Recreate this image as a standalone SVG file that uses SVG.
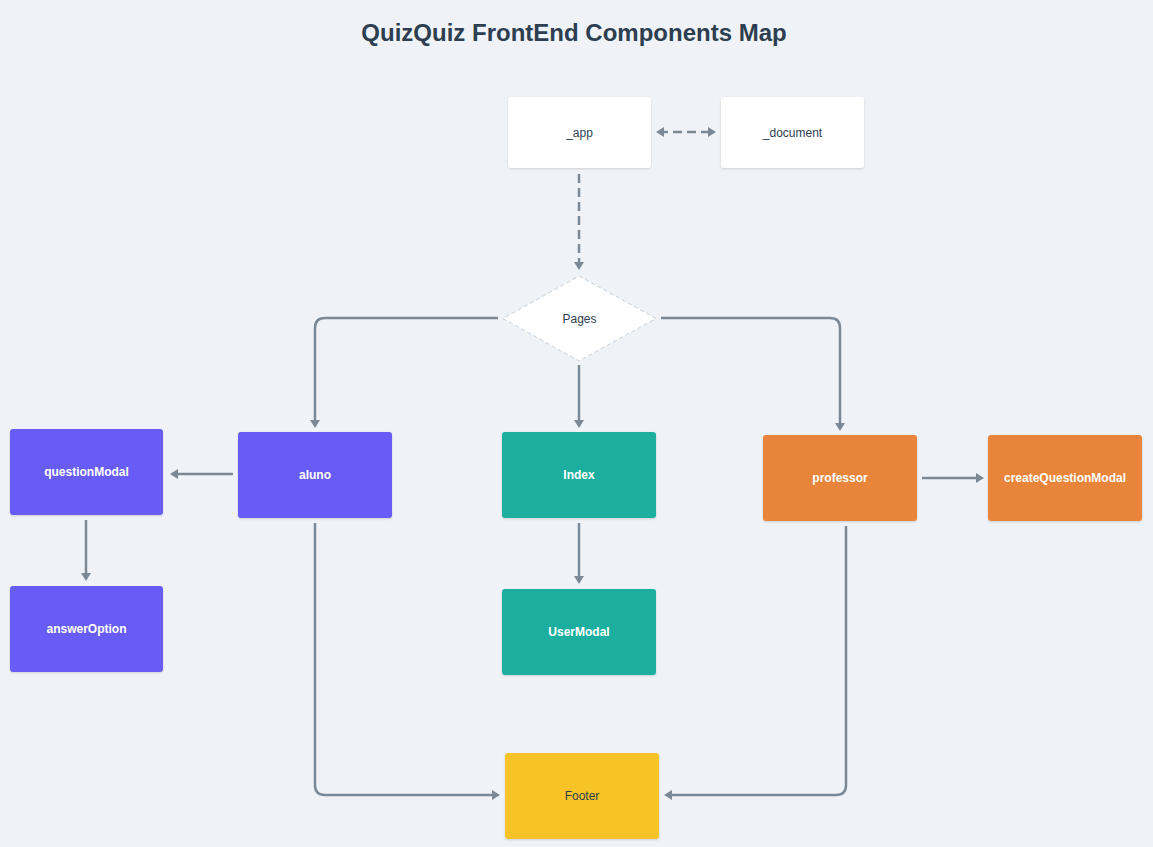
<svg xmlns="http://www.w3.org/2000/svg" width="1153" height="847" viewBox="0 0 1153 847">
<defs>
<style>
.bg{fill:#eff3f7}
.title{font-family:"Liberation Sans",Arial,sans-serif;font-size:24px;font-weight:bold;fill:#2c3e50;text-anchor:middle}
.node rect{stroke:none;rx:3;ry:3}
.lbl{font-family:"Liberation Sans",Arial,sans-serif;font-size:12px;text-anchor:middle;dominant-baseline:central}
.w{fill:#ffffff;font-weight:bold}
.d{fill:#2c3e50}
.edge{fill:none;stroke:#7b8895;stroke-width:2.5}
.dash{stroke-dasharray:9 5}
</style>
<filter id="sh" x="-10%" y="-10%" width="120%" height="130%">
<feDropShadow dx="0" dy="1" stdDeviation="1" flood-color="#000" flood-opacity="0.15"/>
</filter>
<marker id="ah" markerWidth="12" markerHeight="12" refX="5" refY="6" orient="auto-start-reverse" markerUnits="userSpaceOnUse">
<path d="M0,1 L8,6 L0,11 Z" fill="#7b8895"/>
</marker>
</defs>
<rect class="bg" x="0" y="0" width="1153" height="847"/>
<text class="title" x="574" y="41">QuizQuiz FrontEnd Components Map</text>

<g id="connectors">
<path class="edge dash" d="M659,132 L713,132" marker-start="url(#ah)" marker-end="url(#ah)"/>
<path class="edge dash" d="M579,174 L579,267" marker-end="url(#ah)"/>
<path class="edge" d="M498,318 L325,318 Q315,318 315,328 L315,425" marker-end="url(#ah)"/>
<path class="edge" d="M661,318 L830,318 Q840,318 840,328 L840,428" marker-end="url(#ah)"/>
<path class="edge" d="M579,365 L579,425" marker-end="url(#ah)"/>
<path class="edge" d="M233,474 L173,474" marker-end="url(#ah)"/>
<path class="edge" d="M86,520 L86,578" marker-end="url(#ah)"/>
<path class="edge" d="M579,523 L579,581" marker-end="url(#ah)"/>
<path class="edge" d="M922,478 L981,478" marker-end="url(#ah)"/>
<path class="edge" d="M315,523 L315,785 Q315,795 325,795 L497,795" marker-end="url(#ah)"/>
<path class="edge" d="M846,526 L846,785 Q846,795 836,795 L667,795" marker-end="url(#ah)"/>
</g>

<g id="node-app" class="node">
<rect x="508" y="97" width="143" height="71" fill="#ffffff" filter="url(#sh)"/>
<text class="lbl d" x="579.5" y="132.5">_app</text>
</g>
<g id="node-document" class="node">
<rect x="721" y="97" width="143" height="71" fill="#ffffff" filter="url(#sh)"/>
<text class="lbl d" x="792.5" y="132.5">_document</text>
</g>
<g id="node-pages" class="node">
<path d="M579,276 L656,318.5 L579,361 L503,318.5 Z" fill="#ffffff" stroke="#c5cfda" stroke-width="1" stroke-dasharray="4 3"/>
<text class="lbl d" x="579.5" y="318.5">Pages</text>
</g>
<g id="node-aluno" class="node">
<rect x="238" y="432" width="154" height="86" fill="#685bf6" filter="url(#sh)"/>
<text class="lbl w" x="315" y="475">aluno</text>
</g>
<g id="node-questionModal" class="node">
<rect x="10" y="429" width="153" height="86" fill="#685bf6" filter="url(#sh)"/>
<text class="lbl w" x="86.5" y="472">questionModal</text>
</g>
<g id="node-answerOption" class="node">
<rect x="10" y="586" width="153" height="86" fill="#685bf6" filter="url(#sh)"/>
<text class="lbl w" x="86.5" y="629">answerOption</text>
</g>
<g id="node-index" class="node">
<rect x="502" y="432" width="154" height="86" fill="#1aaf9f" filter="url(#sh)"/>
<text class="lbl w" x="579" y="475">Index</text>
</g>
<g id="node-userModal" class="node">
<rect x="502" y="589" width="154" height="86" fill="#1aaf9f" filter="url(#sh)"/>
<text class="lbl w" x="579" y="632">UserModal</text>
</g>
<g id="node-professor" class="node">
<rect x="763" y="435" width="154" height="86" fill="#e8853a" filter="url(#sh)"/>
<text class="lbl w" x="840" y="478">professor</text>
</g>
<g id="node-createQuestionModal" class="node">
<rect x="988" y="435" width="154" height="86" fill="#e8853a" filter="url(#sh)"/>
<text class="lbl w" x="1065" y="478">createQuestionModal</text>
</g>
<g id="node-footer" class="node">
<rect x="505" y="753" width="154" height="86" fill="#f7c325" filter="url(#sh)"/>
<text class="lbl d" x="582" y="796">Footer</text>
</g>
</svg>
